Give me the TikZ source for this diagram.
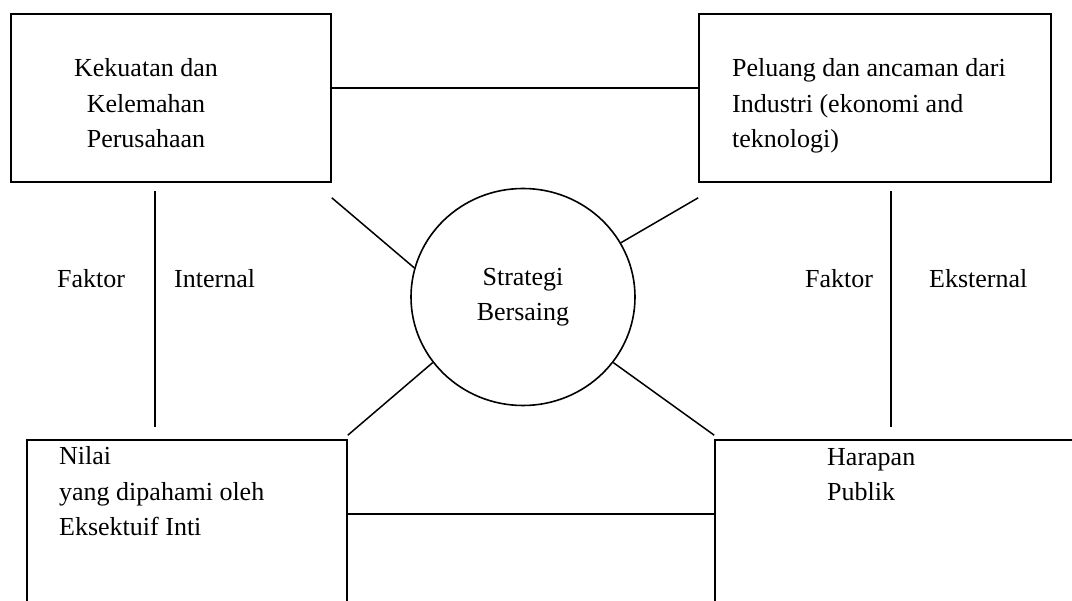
\documentclass[tikz,border=0pt]{standalone}
\usepackage{fontspec}
\setmainfont{Liberation Serif}
\usetikzlibrary{shapes.geometric,calc}

\begin{document}
\begin{tikzpicture}[
  x=1pt, y=-1pt,
  box/.style={rectangle, draw, line width=1.6pt, inner sep=0pt},
  txt/.style={inner sep=0pt, align=left, anchor=base west, font=\fontsize{26}{35.5}\selectfont},
  line/.style={line width=1.5pt}
]
  \clip (0,0) rectangle (1072,601);
  \fill[white] (0,0) rectangle (1072,601);

  % boxes
  \node[box, minimum width=320pt, minimum height=168pt] (kk) at (171,98) {};
  \node[box, minimum width=352pt, minimum height=168pt] (pl) at (875,98) {};
  \node[box, minimum width=320pt, minimum height=168pt] (nl) at (187,524) {};
  \node[box, minimum width=380pt, minimum height=168pt] (hp) at (905,524) {};
  \node[ellipse, draw, line width=1.6pt, inner sep=0pt, minimum width=224pt, minimum height=217pt,
        align=center, font=\fontsize{26}{35.5}\selectfont] (st) at (523,297) {Strategi\\Bersaing};

  % texts (base = last line)
  \node[txt, align=center, anchor=base] (kktxt) at (146,148) {Kekuatan dan\\Kelemahan\\Perusahaan};
  \node[txt] (pltxt) at (732,148) {Peluang dan ancaman dari\\Industri (ekonomi and\\teknologi)};
  \node[txt] (nltxt) at (59,536) {Nilai\\yang dipahami oleh\\Eksektuif Inti};
  \node[txt] (hptxt) at (827,501) {Harapan\\Publik};
  \node[txt] (fi) at (57,288) {Faktor};
  \node[txt] (in) at (174,288) {Internal};
  \node[txt] (fe) at (805,288) {Faktor};
  \node[txt] (ek) at (929,288) {Eksternal};

  % connectors
  \draw[line] ([yshift=10pt]kk.east) -- ([yshift=10pt]pl.west);
  \draw[line] ([yshift=10pt]nl.east) -- ([yshift=10pt]hp.west);
  \draw[line] ([xshift=-16pt,yshift=-8pt]kk.south) -- ([xshift=-32pt,yshift=12pt]nl.north);
  \draw[line] ([xshift=16pt,yshift=-8pt]pl.south) -- ([xshift=-14pt,yshift=12pt]hp.north);
  \draw[line] ([yshift=-15pt]kk.south east) -- (st.165);
  \draw[line] ([yshift=-15pt]pl.south west) -- (st.29);
  \draw[line] (st.216) -- ([yshift=4pt]nl.north east);
  \draw[line] (st.324) -- ([yshift=4pt]hp.north west);
\end{tikzpicture}
\end{document}
